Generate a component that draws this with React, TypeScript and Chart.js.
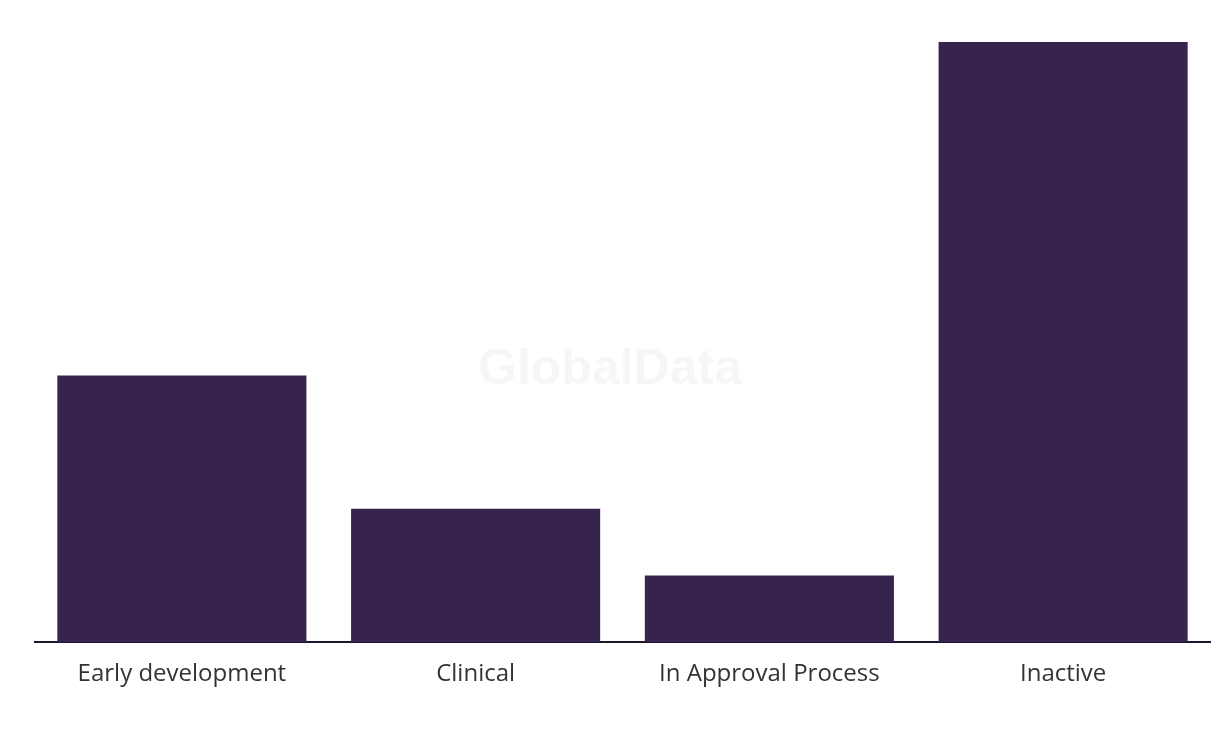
import React, { useEffect, useRef } from "react";
import { Chart, registerables } from "chart.js";

Chart.register(...registerables);

const categories = ["Early development", "Clinical", "In Approval Process", "Inactive"];
const counts = [4, 2, 1, 9];

const watermark = {
  id: "watermark",
  beforeDatasetsDraw(chart: any) {
    const { ctx } = chart;
    ctx.save();
    ctx.font = "bold 50px 'Liberation Sans', Arial, sans-serif";
    ctx.fillStyle = "rgba(0,0,0,0.035)";
    ctx.textAlign = "center";
    ctx.textBaseline = "middle";
    ctx.fillText("GlobalData", 602, 362);
    ctx.restore();
  },
};

export default function App() {
  const ref = useRef<HTMLCanvasElement>(null);
  useEffect(() => {
    const chart = new Chart(ref.current!, {
      type: "bar",
      data: {
        labels: categories,
        datasets: [
          {
            data: counts,
            backgroundColor: "#36244f",
            barPercentage: 0.848,
            categoryPercentage: 1,
          },
        ],
      },
      options: {
        animation: false,
        responsive: true,
        maintainAspectRatio: false,
        layout: { padding: { left: 27, right: 2, top: 34, bottom: 21 } },
        plugins: { legend: { display: false }, tooltip: { enabled: false } },
        scales: {
          x: {
            grid: { display: false, drawTicks: false },
            border: { display: true, color: "#1b1530", width: 2 },
            ticks: {
              color: "#333333",
              font: { family: "'Open Sans', sans-serif", size: 24 },
              padding: 18,
              maxRotation: 0,
            },
          },
          y: {
            display: false,
            min: 0,
            max: 9,
          },
        },
      },
      plugins: [watermark],
    });
    return () => chart.destroy();
  }, []);
  return (
    <div style={{ width: "100%", height: 720, position: "relative" }}>
      <canvas ref={ref} />
    </div>
  );
}
